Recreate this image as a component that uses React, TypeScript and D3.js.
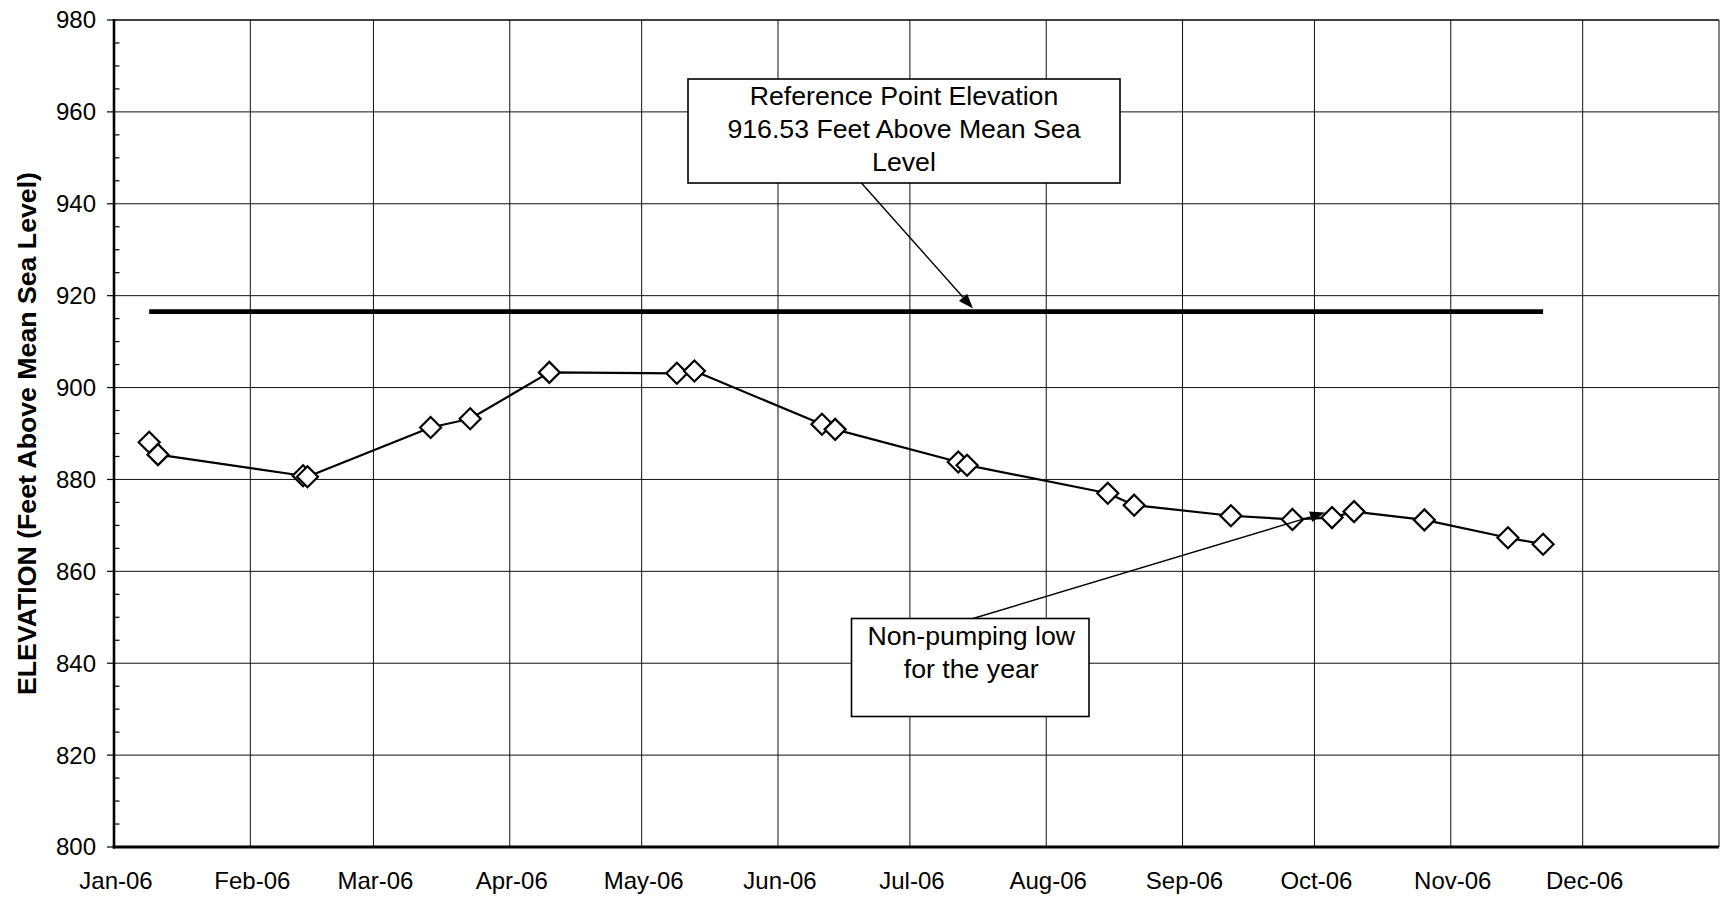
import React from "react";
import * as d3 from "d3";

// ---------- data ----------
const sampleDates = [
  "2006-01-09", "2006-01-11", "2006-02-13", "2006-02-14", "2006-03-14",
  "2006-03-23", "2006-04-10", "2006-05-09", "2006-05-13", "2006-06-11",
  "2006-06-14", "2006-07-12", "2006-07-14", "2006-08-15", "2006-08-21",
  "2006-09-12", "2006-09-26", "2006-10-05", "2006-10-10", "2006-10-26",
  "2006-11-14", "2006-11-22",
];
const elevations = [
  888.1, 885.4, 880.8, 880.6, 891.3,
  893.2, 903.3, 903.1, 903.6, 892.0,
  890.9, 883.8, 883.1, 877.0, 874.4,
  872.1, 871.3, 871.7, 873.0, 871.2,
  867.3, 865.9,
];
const refDates = ["2006-01-09", "2006-11-22"];
const refElevation = 916.53;

const xDomain = ["2006-01-01", "2007-01-01"];
const monthTicks = [
  "2006-01-01", "2006-02-01", "2006-03-01", "2006-04-01", "2006-05-01", "2006-06-01",
  "2006-07-01", "2006-08-01", "2006-09-01", "2006-10-01", "2006-11-01", "2006-12-01",
];
const monthLabels = [
  "Jan-06", "Feb-06", "Mar-06", "Apr-06", "May-06", "Jun-06",
  "Jul-06", "Aug-06", "Sep-06", "Oct-06", "Nov-06", "Dec-06",
];
const yDomain = [800, 980];
const yMajorTicks = [800, 820, 840, 860, 880, 900, 920, 940, 960, 980];
const yTitle = "ELEVATION (Feet Above Mean Sea Level)";
const refNoteLines = ["Reference Point Elevation", "916.53 Feet Above Mean Sea", "Level"];
const lowNoteLines = ["Non-pumping low", "for the year"];

// ---------- layout ----------
const W = 1720;
const H = 897;
const L = 114, R = 1719, T = 20, B = 847;
const FONT = "'Liberation Sans', Arial, Helvetica, sans-serif";

const parse = d3.timeParse("%Y-%m-%d");

function Arrow({ x1, y1, x2, y2 }: { x1: number; y1: number; x2: number; y2: number }) {
  const ang = Math.atan2(y2 - y1, x2 - x1);
  const len = 15, hw = 5.5;
  const bx = x2 - len * Math.cos(ang), by = y2 - len * Math.sin(ang);
  const px = -Math.sin(ang) * hw, py = Math.cos(ang) * hw;
  const pts = `${x2},${y2} ${bx + px},${by + py} ${bx - px},${by - py}`;
  return (
    <g>
      <line x1={x1} y1={y1} x2={bx} y2={by} stroke="#000" strokeWidth={1.4} />
      <polygon points={pts} fill="#000" />
    </g>
  );
}

export default function App() {
  const x = d3.scaleTime().domain(xDomain.map((d) => parse(d)!)).range([L, R]);
  const y = d3.scaleLinear().domain(yDomain).range([B, T]);

  const pts = sampleDates.map((d, i) => ({ t: parse(d)!, v: elevations[i] }));
  const line = d3.line<{ t: Date; v: number }>().x((d) => x(d.t)).y((d) => y(d.v));
  const refPts = refDates.map((d) => ({ t: parse(d)!, v: refElevation }));

  const minorTicks = d3.range(yDomain[0], yDomain[1] + 0.001, 5).filter((v) => v % 20 !== 0);

  const dSize = 10.5;
  const diamond = (cx: number, cy: number) =>
    `M${cx},${cy - dSize} L${cx + dSize},${cy} L${cx},${cy + dSize} L${cx - dSize},${cy} Z`;

  // annotation boxes (layout)
  const box1 = { x: 688, y: 79, w: 432, h: 104 };
  const box2 = { x: 851.5, y: 618.5, w: 237.5, h: 98 };

  return (
    <svg
      width={W}
      height={H}
      style={{ position: "absolute", left: 0, top: 0, background: "#fff" }}
      fontFamily={FONT}
    >
      <rect x={0} y={0} width={W} height={H} fill="#fff" />
      {/* gridlines */}
      <g stroke="#111" strokeWidth={1}>
        {yMajorTicks
          .filter((v) => v !== yDomain[0] && v !== yDomain[1])
          .map((v) => (
            <line key={"h" + v} x1={L} x2={R} y1={y(v)} y2={y(v)} />
          ))}
        {monthTicks.slice(1).map((d) => (
          <line key={"v" + d} x1={x(parse(d)!)} x2={x(parse(d)!)} y1={T} y2={B} />
        ))}
      </g>

      {/* reference line */}
      <path
        d={line(refPts) || ""}
        stroke="#000"
        strokeWidth={4.8}
        fill="none"
        strokeLinecap="butt"
      />

      {/* data */}
      <path d={line(pts) || ""} stroke="#000" strokeWidth={2.2} fill="none" strokeLinejoin="round" />
      {pts.map((p, i) => (
        <path key={i} d={diamond(x(p.t), y(p.v))} fill="#fff" stroke="#000" strokeWidth={2.2} strokeLinejoin="miter" />
      ))}

      {/* frame */}
      <line x1={L} x2={R} y1={T} y2={T} stroke="#000" strokeWidth={1.6} />
      <line x1={R} x2={R} y1={T} y2={B} stroke="#333" strokeWidth={1.2} />
      <line x1={L} x2={L} y1={T - 1} y2={B + 1.5} stroke="#000" strokeWidth={2.6} />
      <line x1={L - 1.3} x2={R} y1={B} y2={B} stroke="#000" strokeWidth={3} />

      {/* y ticks */}
      <g stroke="#000" strokeWidth={1.2}>
        {yMajorTicks.map((v) => (
          <line key={"mt" + v} x1={L - 7} x2={L} y1={y(v)} y2={y(v)} />
        ))}
        {minorTicks.map((v) => (
          <line key={"mn" + v} x1={L} x2={L + 5.5} y1={y(v)} y2={y(v)} />
        ))}
      </g>
      <g fontSize={24} fill="#000" textAnchor="end">
        {yMajorTicks.map((v) => (
          <text key={"yl" + v} x={96} y={y(v)} dy="0.35em">
            {v}
          </text>
        ))}
      </g>
      <g fontSize={24} fill="#000" textAnchor="middle">
        {monthTicks.map((d, i) => (
          <text key={"xl" + d} x={x(parse(d)!) + 2} y={888.5}>
            {monthLabels[i]}
          </text>
        ))}
      </g>
      <text
        transform={`translate(${36},${(T + B) / 2}) rotate(-90)`}
        textAnchor="middle"
        fontSize={26.7}
        fontWeight="bold"
        fill="#000"
      >
        {yTitle}
      </text>

      {/* annotation 1 */}
      <Arrow x1={861} y1={182.5} x2={973} y2={308.5} />
      <rect x={box1.x} y={box1.y} width={box1.w} height={box1.h} fill="#fff" stroke="#000" strokeWidth={1.6} />
      <g fontSize={26.7} textAnchor="middle" fill="#000">
        {refNoteLines.map((s, i) => (
          <text key={s} x={box1.x + box1.w / 2} y={105 + i * 32.8}>
            {s}
          </text>
        ))}
      </g>

      {/* annotation 2 */}
      <Arrow x1={973} y1={618.5} x2={1325} y2={512.5} />
      <rect x={box2.x} y={box2.y} width={box2.w} height={box2.h} fill="#fff" stroke="#000" strokeWidth={1.6} />
      <g fontSize={26.7} textAnchor="middle" fill="#000">
        {lowNoteLines.map((s, i) => (
          <text key={s} x={box2.x + box2.w / 2 + 1} y={645 + i * 32.8}>
            {s}
          </text>
        ))}
      </g>
    </svg>
  );
}
